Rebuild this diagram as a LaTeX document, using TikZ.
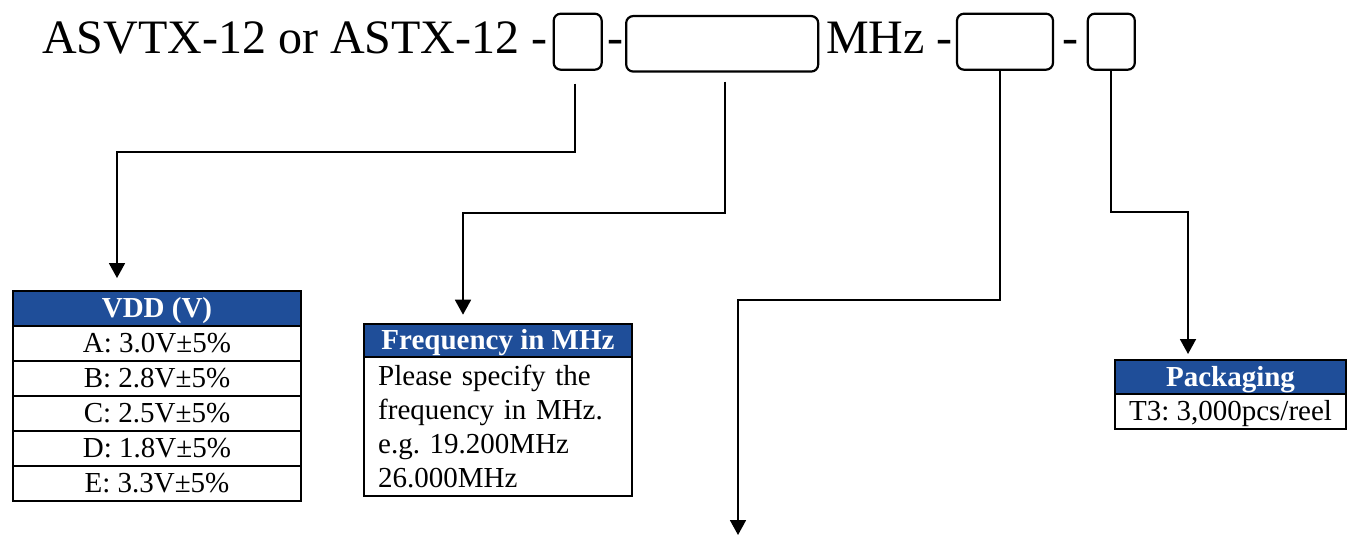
\documentclass[tikz,border=0pt]{standalone}
\usepackage{fontspec}
\setmainfont{Liberation Serif}
\usepackage{xcolor}
\usetikzlibrary{arrows.meta, positioning, calc}
\definecolor{headblue}{RGB}{31,78,153}
\frenchspacing

\begin{document}
\begin{tikzpicture}[
        x=1pt, y=-1pt,
        slot/.style = {rectangle, draw=black, line width=2.2pt, rounded corners=7pt, inner sep=0pt, outer sep=0pt, minimum height=56pt},
        code/.style = {inner sep=0pt, font=\fontsize{48}{58}\selectfont},
        head/.style = {rectangle, draw=black, line width=2pt, fill=headblue, text=white, font=\fontsize{29}{34}\selectfont\bfseries, inner sep=0pt, outer sep=0pt, text height=22pt, text depth=4pt},
        cell/.style = {rectangle, draw=black, line width=2pt, font=\fontsize{29}{34}\selectfont, inner sep=0pt, outer sep=0pt},
        row/.style = {cell, text height=22pt, text depth=4pt, minimum height=35pt},
        arrow/.style = {line width=1.8pt, -{Triangle[width=16pt, length=15pt]}}
    ]
    \useasboundingbox (0,0) rectangle (1348,536);

    % --- PART NUMBER LINE ---

    \node[code, anchor=base west] (title) at (42,53) {ASVTX-12 or ASTX-12 -};
    \node[slot, minimum width=48pt] (vslot) at (577.7,41.7) {};
    \node[code, anchor=base] (dashA) at (615.5,53) {-};
    \node[slot, minimum width=192pt, minimum height=55.5pt] (fslot) at (722.2,43.8) {};
    \node[code, anchor=base west] (mhz) at (826,53) {MHz -};
    \node[slot, minimum width=96pt] (oslot) at (1005,41.7) {};
    \node[code, anchor=base] (dashB) at (1070.5,53) {-};
    \node[slot, minimum width=47pt] (pslot) at (1111.3,41.7) {};

    % --- OPTION TABLES ---

    % VDD
    \node[head, minimum width=288pt, minimum height=34.7pt] (vddhead) at (157,308.4) {VDD (V)};
    \node[row, minimum width=288pt, below=0pt of vddhead] (vddA) {A: 3.0V±5\%};
    \node[row, minimum width=288pt, below=0pt of vddA] (vddB) {B: 2.8V±5\%};
    \node[row, minimum width=288pt, below=0pt of vddB] (vddC) {C: 2.5V±5\%};
    \node[row, minimum width=288pt, below=0pt of vddC] (vddD) {D: 1.8V±5\%};
    \node[row, minimum width=288pt, below=0pt of vddD] (vddE) {E: 3.3V±5\%};

    % Frequency
    \node[head, minimum width=268.6pt, minimum height=33.6pt] (freqhead) at (498,340.5) {Frequency in MHz};
    \node[cell, text width=239.6pt, align=left, inner xsep=14.5pt, inner ysep=8pt, below=0pt of freqhead] (freqbody)
        {Please specify the\\frequency in MHz.\\e.g. 19.200MHz\\26.000MHz};

    % Packaging
    \node[head, minimum width=231pt, minimum height=34pt] (packhead) at (1230.5,377) {Packaging};
    \node[row, minimum width=231pt, below=0pt of packhead] (packT3) {T3: 3,000pcs/reel};

    % --- CONNECTORS ---

    \coordinate (vbend) at (117,152);
    \coordinate (fbend) at (463,213);
    \coordinate (obend) at (738,300);
    \coordinate (oend) at (738,535);
    \coordinate (pbend) at (1188,212);

    \draw[arrow, shorten <=14pt, shorten >=13pt] ([xshift=-3pt]vslot.south) |- (vbend) -- (vbend |- vddhead.north);
    \draw[arrow, shorten <=10pt, shorten >=9pt] ([xshift=2.8pt]fslot.south) |- (fbend) -- (fbend |- freqhead.north);
    \draw[arrow] ([xshift=-5pt]oslot.south) |- (obend) -- (oend);
    \draw[arrow, shorten <=1pt, shorten >=6pt] (pslot.south) |- (pbend) -- (pbend |- packhead.north);

\end{tikzpicture}
\end{document}
